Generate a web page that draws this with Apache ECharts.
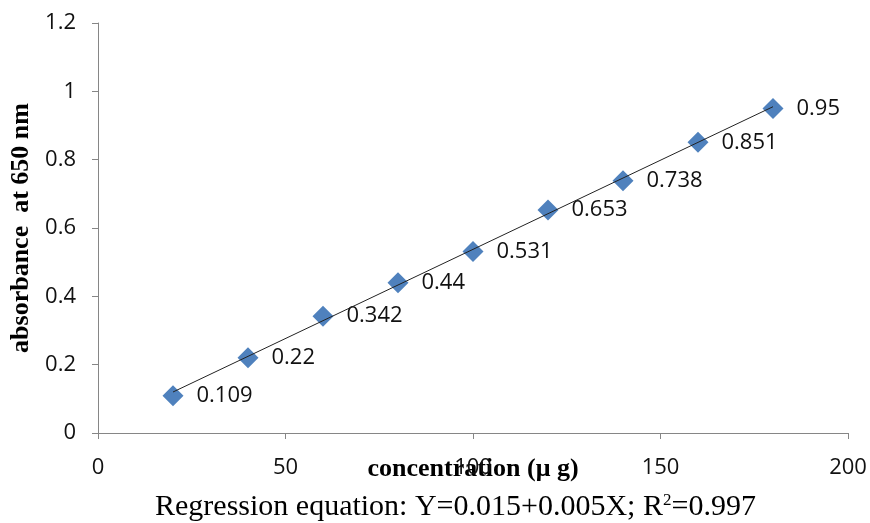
<!DOCTYPE html>
<html><head><meta charset="utf-8">
<script src="https://cdn.jsdelivr.net/npm/echarts@6/dist/echarts.min.js"></script>
<style>html,body{margin:0;padding:0;background:#fff}#c{width:870px;height:523px}</style>
</head><body><div id="c"></div>
<script>
const concentration = [20, 40, 60, 80, 100, 120, 140, 160, 180];
const absorbance = [0.109, 0.22, 0.342, 0.44, 0.531, 0.653, 0.738, 0.851, 0.95];
const trendX = [20, 180];
const trendY = [0.12, 0.955];
const xTicks = [0, 50, 100, 150, 200];
const yTicks = [0, 0.2, 0.4, 0.6, 0.8, 1, 1.2];

const chart = echarts.init(document.getElementById('c'));
const tickFont = { fontFamily: 'Open Sans', fontSize: 22, color: '#111' };
chart.setOption({
  animation: false,
  grid: { left: 98, right: 22, top: 23, bottom: 90 },
  xAxis: {
    type: 'value', min: xTicks[0], max: xTicks[xTicks.length-1], interval: 50,
    name: 'concentration (\u03bc g)', nameLocation: 'middle', nameGap: 23, nameMoveOverlap: false,
    nameTextStyle: { fontFamily: 'Liberation Serif', fontWeight: 'bold', fontSize: 26, color: '#000', verticalAlign: 'top' },
    axisLine: { lineStyle: { color: '#868686', width: 1 } },
    axisTick: { show: true, length: 6, lineStyle: { color: '#868686' } },
    axisLabel: Object.assign({ margin: 24 }, tickFont),
    splitLine: { show: false }
  },
  yAxis: {
    type: 'value', min: yTicks[0], max: yTicks[yTicks.length-1], interval: 0.2,
    name: 'absorbance  at 650 nm', nameLocation: 'middle', nameGap: 64, nameMoveOverlap: false,
    nameTextStyle: { fontFamily: 'Liberation Serif', fontWeight: 'bold', fontSize: 26, color: '#000' },
    axisLine: { show: true, lineStyle: { color: '#868686', width: 1 } },
    axisTick: { show: true, length: 6, lineStyle: { color: '#868686' } },
    axisLabel: Object.assign({ margin: 22 }, tickFont),
    splitLine: { show: false }
  },
  series: [
    {
      type: 'scatter', symbol: 'diamond', symbolSize: 21, z: 2,
      itemStyle: { color: '#4F81BD', opacity: 1 },
      data: concentration.map((x, i) => [x, absorbance[i]]),
      label: { show: true, position: 'right', distance: 13, fontFamily: 'Open Sans', fontSize: 22, color: '#111',
        formatter: p => String(p.value[1]) }
    },
    {
      type: 'line', z: 3, symbol: 'none', silent: true,
      lineStyle: { color: '#222', width: 1 },
      data: trendX.map((x, i) => [x, trendY[i]])
    }
  ],
  graphic: [{
    type: 'text', left: 155, top: 492,
    style: {
      text: '{n|Regression equation: Y=0.015+0.005X; R}{s|2}{n|=0.997}',
      rich: {
        n: { fontFamily: 'Liberation Serif', fontSize: 30, fill: '#000', verticalAlign: 'bottom' },
        s: { fontFamily: 'Liberation Serif', fontSize: 17, fill: '#000', verticalAlign: 'top', padding: [0,0,13,0] }
      }
    }
  }]
});
</script></body></html>
